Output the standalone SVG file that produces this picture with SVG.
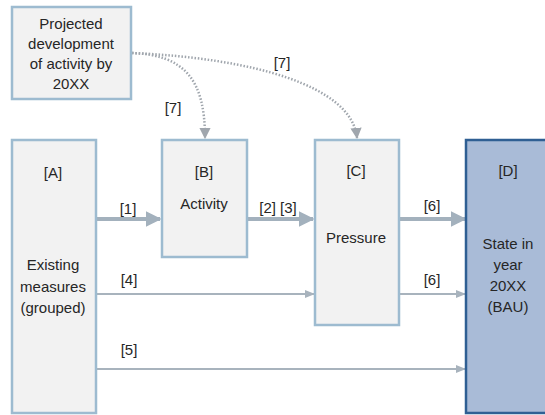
<svg xmlns="http://www.w3.org/2000/svg" width="545" height="415" viewBox="0 0 545 415">
<style>
.box{fill:#f2f2f2;stroke:#9dbbd0;stroke-width:2.5}
.dbox{fill:#a9bbd7;stroke:#2f5f93;stroke-width:2.5}
text{font-family:"Liberation Sans",Arial,sans-serif;font-size:15px;fill:#262626;text-anchor:middle;dominant-baseline:central}
.thick{stroke:#a3b1bd;stroke-width:4;fill:none}
.thin{stroke:#a8b3bd;stroke-width:2;fill:none}
.dot{stroke:#a0a6ad;stroke-width:2.5;fill:none;stroke-dasharray:1.5 1.8}
</style>
<defs>
<marker id="ah" viewBox="0 0 10 10" refX="9" refY="5" markerWidth="4" markerHeight="4" orient="auto" markerUnits="strokeWidth"><path d="M0,0 L10,5 L0,10 z" fill="#a3b1bd"/></marker>
<marker id="ahs" viewBox="0 0 10 10" refX="9" refY="5" markerWidth="5" markerHeight="5" orient="auto" markerUnits="strokeWidth"><path d="M0,1 L10,5 L0,9 z" fill="#a8b3bd"/></marker>
<marker id="ahd" viewBox="0 0 10 10" refX="9" refY="5" markerWidth="4.5" markerHeight="4.5" orient="auto" markerUnits="strokeWidth"><path d="M0,0 L10,5 L0,10 z" fill="#a0a6ad"/></marker>
</defs>
<g id="connectors">
<path class="thick" d="M96,219 L160,219" marker-end="url(#ah)"/>
<path class="thick" d="M247,219 L313,219" marker-end="url(#ah)"/>
<path class="thick" d="M399,219 L465,219" marker-end="url(#ah)"/>
<path class="thin" d="M96,294 L314,294" marker-end="url(#ahs)"/>
<path class="thin" d="M399,294 L465,294" marker-end="url(#ahs)"/>
<path class="thin" d="M96,369 L465,369" marker-end="url(#ahs)"/>
<path class="dot" d="M132,53 C185,55 205,80 205,138" marker-end="url(#ahd)"/>
<path class="dot" d="M132,53 C250,58 352,85 357,138" marker-end="url(#ahd)"/>
<text x="128" y="208">[1]</text>
<text x="278" y="207">[2] [3]</text>
<text x="432" y="205">[6]</text>
<text x="129" y="279">[4]</text>
<text x="432" y="279">[6]</text>
<text x="129" y="349">[5]</text>
<text x="282" y="62">[7]</text>
<text x="173" y="107">[7]</text>
</g>
<g id="projected">
<rect class="box" x="12" y="7" width="119" height="92"/>
<text x="71" y="23">Projected</text>
<text x="71" y="43">development</text>
<text x="71" y="63">of activity by</text>
<text x="71" y="83">20XX</text>
</g>
<g id="A">
<rect class="box" x="12" y="140" width="84" height="273"/>
<text x="53" y="172">[A]</text>
<text x="53" y="264">Existing</text>
<text x="53" y="286">measures</text>
<text x="53" y="307">(grouped)</text>
</g>
<g id="B">
<rect class="box" x="162" y="140" width="85" height="117"/>
<text x="204" y="171">[B]</text>
<text x="204" y="203">Activity</text>
</g>
<g id="C">
<rect class="box" x="315" y="140" width="84" height="185"/>
<text x="356" y="170">[C]</text>
<text x="356" y="237">Pressure</text>
</g>
<g id="D">
<rect class="dbox" x="466" y="140" width="90" height="273"/>
<text x="508" y="170">[D]</text>
<text x="508" y="243">State in</text>
<text x="508" y="264">year</text>
<text x="508" y="285">20XX</text>
<text x="508" y="306">(BAU)</text>
</g>
</svg>
